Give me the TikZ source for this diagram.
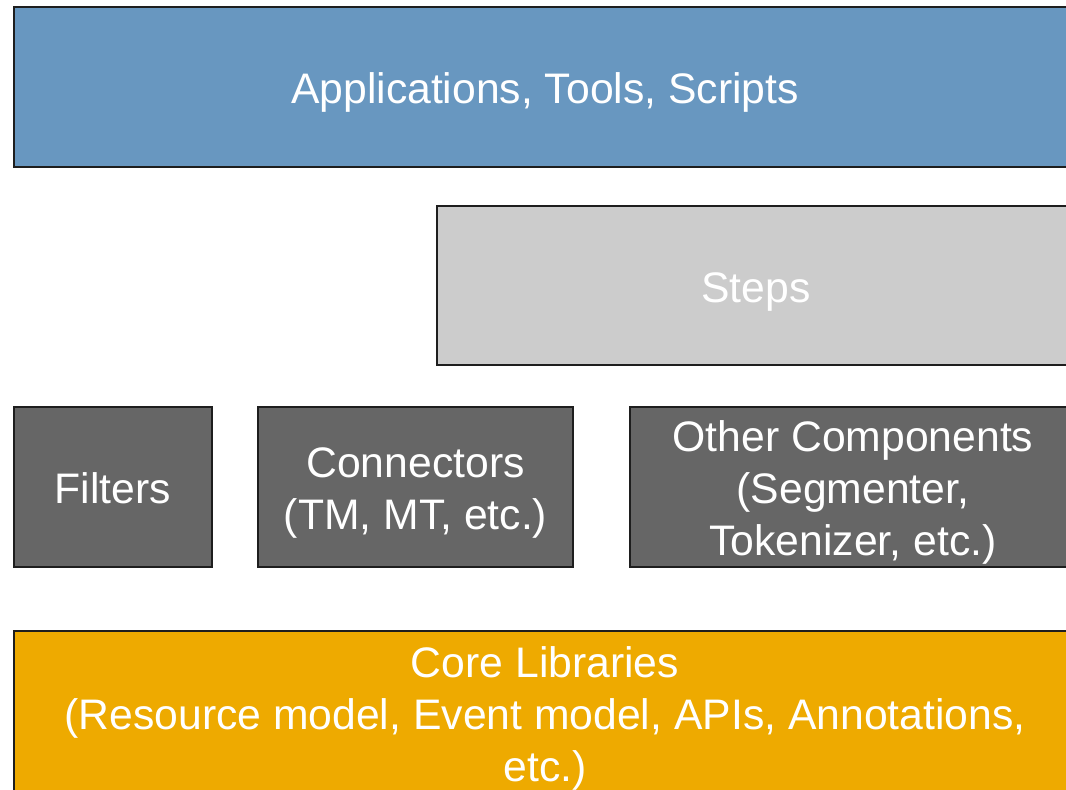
\documentclass[tikz,border=0pt]{standalone}
\usepackage{fontspec}
\setmainfont{Liberation Sans}
\usepackage{xcolor}
\definecolor{appblue}{HTML}{6897C0}
\definecolor{stepgray}{HTML}{CCCCCC}
\definecolor{compgray}{HTML}{666666}
\definecolor{coreyellow}{HTML}{EEAA00}
\definecolor{edgegray}{HTML}{1E1E1E}
% line strut: same height and depth on every line of a box
\newcommand{\lstrut}{\rule[-5.4pt]{0pt}{29.6pt}}

\begin{document}
\begin{tikzpicture}[x=0.02cm,y=-0.02cm,
        layer/.style={draw=edgegray,line width=1.4pt,rectangle,text=white,
            align=center,inner sep=0pt,
            font=\fontsize{24.3}{29.6}\selectfont},
        tall/.style={minimum height=3.2cm}]

    \useasboundingbox (0,0) rectangle (1066,790);
    \clip (0,0) rectangle (1066,790);

    \node[layer,tall,fill=appblue,minimum width=21.24cm] (apps) at (545,87)
        {\lstrut Applications, Tools, Scripts};
    \node[layer,fill=stepgray,minimum width=12.76cm,minimum height=3.18cm] (steps) at (756,285.5)
        {\lstrut Steps};

    \node[layer,tall,fill=compgray,minimum width=3.96cm] (filters) at (113,487) {\lstrut Filters};
    \node[layer,tall,fill=compgray,minimum width=6.3cm] (conn) at (415.5,487)
        {\lstrut Connectors\\\lstrut (TM, MT, etc.)};
    \node[layer,tall,fill=compgray,minimum width=8.92cm] (other) at (853,487)
        {\lstrut Other Components\\\lstrut (Segmenter,\\\lstrut Tokenizer, etc.)};

    \node[layer,fill=coreyellow,minimum width=21.24cm,minimum height=3.28cm] (core) at (545,713)
        {\lstrut Core Libraries\\\lstrut (Resource model, Event model, APIs, Annotations,\\\lstrut etc.)};

    \end{tikzpicture}
\end{document}
